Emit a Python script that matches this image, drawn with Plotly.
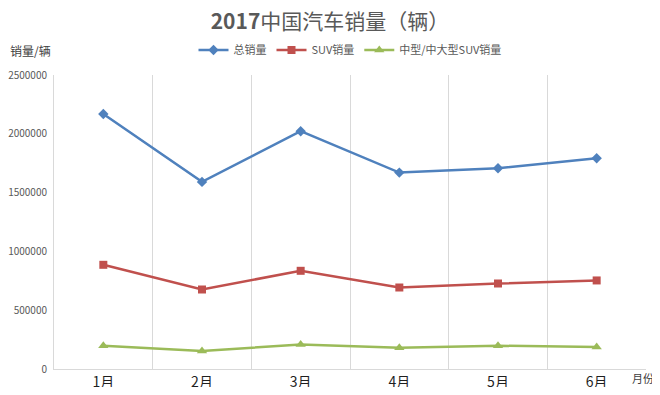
import plotly.graph_objects as go

months = ["1月", "2月", "3月", "4月", "5月", "6月"]
total_sales = [2169000, 1591000, 2022000, 1670000, 1707000, 1792000]
suv_sales = [886000, 676000, 835000, 693000, 727000, 753000]
mid_large_suv_sales = [198000, 153000, 209000, 181000, 198000, 187000]

FONT = "Noto Sans CJK SC"
GREY = "#595959"

fig = go.Figure()
fig.add_trace(go.Scatter(
    x=months, y=total_sales, name="总销量", mode="lines+markers",
    line=dict(color="#4F81BD", width=2.5),
    marker=dict(symbol="diamond", size=8, color="#4F81BD"),
))
fig.add_trace(go.Scatter(
    x=months, y=suv_sales, name="SUV销量", mode="lines+markers",
    line=dict(color="#C0504D", width=2.5),
    marker=dict(symbol="square", size=8, color="#C0504D"),
))
fig.add_trace(go.Scatter(
    x=months, y=mid_large_suv_sales, name="中型/中大型SUV销量", mode="lines+markers",
    line=dict(color="#9BBB59", width=2.5),
    marker=dict(symbol="triangle-up", size=9, color="#9BBB59"),
))

# page body has an 8px margin on every side, so the figure is sized to fit
# inside the 660x395 window without scrollbars
fig.update_layout(
    width=644, height=379,
    margin=dict(l=46, r=6, t=67, b=18, autoexpand=False),
    paper_bgcolor="white", plot_bgcolor="white",
    font=dict(family=FONT, color=GREY),
    title=dict(text="<b>2017</b>中国汽车销量（辆）", x=0.5, xanchor="center",
               y=0.965, yanchor="middle", font=dict(size=21, color=GREY, family=FONT)),
    legend=dict(orientation="h", x=0.5, xanchor="center", y=1.085, yanchor="middle",
                font=dict(size=11, color=GREY), itemwidth=30, tracegroupgap=0),
    showlegend=True,
)
fig.update_xaxes(
    type="category", range=[-0.5, 5.5], tickson="boundaries",
    showgrid=True, gridcolor="#D9D9D9", gridwidth=1,
    showline=True, linecolor="#D9D9D9", linewidth=1,
    ticks="", tickfont=dict(size=14, color="#1f1f1f", family=FONT),
    zeroline=False, automargin=False,
)
fig.update_yaxes(
    range=[0, 2500000], dtick=500000, tickformat="d",
    showgrid=False, zeroline=False, showline=True, linecolor="#D9D9D9", linewidth=1,
    ticks="", tickfont=dict(size=10, color=GREY), ticklabelstandoff=4,
    automargin=False,
)
fig.add_annotation(text="销量/辆", xref="paper", yref="paper", x=-0.077, y=1.085,
                   xanchor="left", yanchor="middle", showarrow=False,
                   font=dict(size=12, color="#404040"))
fig.add_annotation(text="月份", xref="paper", yref="paper", x=0.973, y=-0.031,
                   xanchor="left", yanchor="middle", showarrow=False,
                   font=dict(size=11, color="#404040"))

fig.write_html("out.html")
